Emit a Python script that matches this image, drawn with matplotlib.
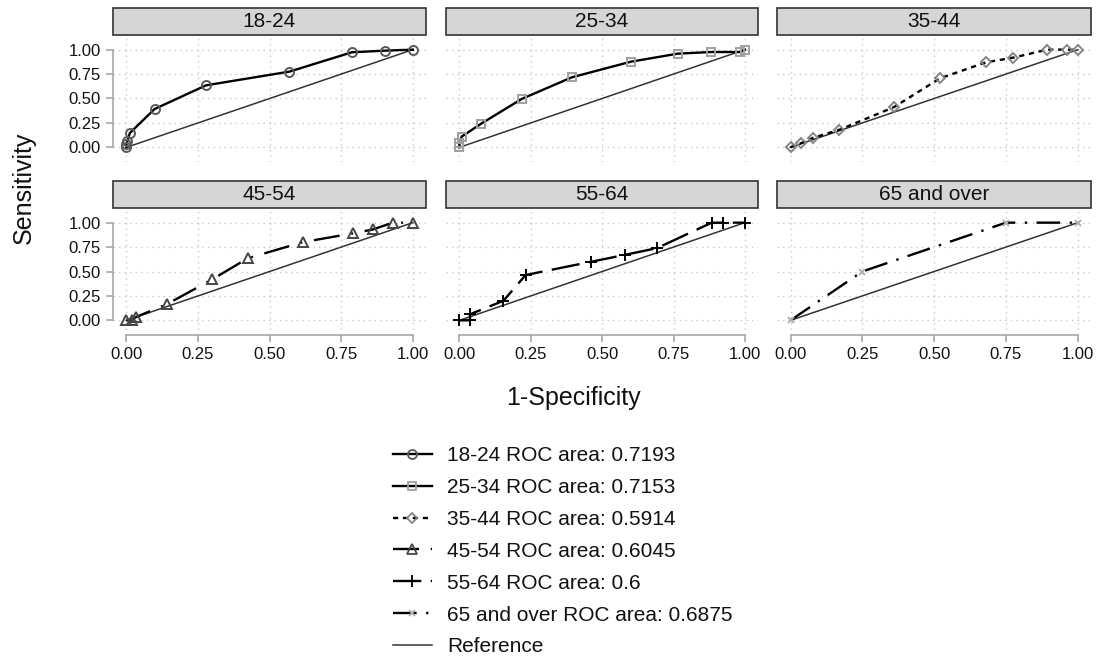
import matplotlib
matplotlib.use("Agg")
import matplotlib.pyplot as plt
from matplotlib.patches import Rectangle
from matplotlib.lines import Line2D

plt.rcParams['font.family'] = ['Liberation Sans', 'DejaVu Sans']

# ---------------- data ----------------
groups = ["18-24", "25-34", "35-44", "45-54", "55-64", "65 and over"]
roc_areas = ["0.7193", "0.7153", "0.5914", "0.6045", "0.6", "0.6875"]

fpr_18_24 = [0.0, 0.0, 0.003, 0.012, 0.098, 0.278, 0.569, 0.787, 0.903, 1.0]
tpr_18_24 = [0.0, 0.03, 0.06, 0.147, 0.392, 0.635, 0.775, 0.973, 0.990, 1.0]

fpr_25_34 = [0.0, 0.0, 0.008, 0.075, 0.218, 0.394, 0.601, 0.765, 0.882, 0.984, 1.0]
tpr_25_34 = [0.0, 0.04, 0.11, 0.24, 0.495, 0.717, 0.877, 0.959, 0.976, 0.976, 1.0]

fpr_35_44 = [0.0, 0.038, 0.077, 0.17, 0.359, 0.52, 0.68, 0.775, 0.893, 0.963, 1.0]
tpr_35_44 = [0.0, 0.044, 0.096, 0.18, 0.41, 0.706, 0.87, 0.918, 1.0, 1.0, 1.0]

fpr_45_54 = [0.0, 0.019, 0.034, 0.141, 0.30, 0.424, 0.615, 0.79, 0.86, 0.93, 1.0]
tpr_45_54 = [0.0, 0.0, 0.035, 0.165, 0.42, 0.636, 0.80, 0.89, 0.93, 1.0, 1.0]

fpr_55_64 = [0.0, 0.037, 0.037, 0.154, 0.232, 0.462, 0.579, 0.692, 0.884, 0.922, 1.0]
tpr_55_64 = [0.0, 0.0, 0.062, 0.20, 0.464, 0.60, 0.67, 0.739, 1.0, 1.0, 1.0]

fpr_65_over = [0.0, 0.25, 0.75, 1.0]
tpr_65_over = [0.0, 0.5, 1.0, 1.0]

ref_x = [0.0, 1.0]
ref_y = [0.0, 1.0]

tick_values = [0.0, 0.25, 0.5, 0.75, 1.0]
tick_labels = ["0.00", "0.25", "0.50", "0.75", "1.00"]

fprs = [fpr_18_24, fpr_25_34, fpr_35_44, fpr_45_54, fpr_55_64, fpr_65_over]
tprs = [tpr_18_24, tpr_25_34, tpr_35_44, tpr_45_54, tpr_55_64, tpr_65_over]

# ---------------- styles ----------------
styles = [
    dict(marker='o', ms=6.5, mec='#5a5a5a', ls='-', dashes=None),
    dict(marker='s', ms=6.0, mec='#a0a0a0', ls='-', dashes=None),
    dict(marker='D', ms=5.6, mec='#858585', ls='--', dashes=(2.2, 2.0)),
    dict(marker='^', ms=7.0, mec='#454545', ls='--', dashes=(11, 5, 0.8, 5)),
    dict(marker='+', ms=8.5, mec='#000000', ls='--', dashes=(12, 4)),
    dict(marker='x', ms=3.8, mec='#b0b0b0', ls='--', dashes=(10, 4, 1, 4)),
]

W, H = 1098, 661
fig = plt.figure(figsize=(W / 100, H / 100), dpi=100)

def rect(l, t, r, b):
    return [l / W, 1 - b / H, (r - l) / W, (b - t) / H]

cols = [(113, 426), (446, 758), (777, 1091)]
rows = [(35, 162), (208, 335)]
strip_h = 27

grid_kw = dict(color='#c8c8c8', linestyle=(0, (1, 3)), linewidth=1.0)

for i in range(6):
    r, c = divmod(i, 3)
    l, rr = cols[c]
    t, b = rows[r]
    ax = fig.add_axes(rect(l, t, rr, b))
    ax.set_xlim(-0.047, 1.046)
    ax.set_ylim(-0.15, 1.15)
    ax.set_xticks(tick_values)
    ax.set_yticks(tick_values)
    ax.grid(True, **grid_kw)
    ax.set_axisbelow(True)
    for s in ['top', 'right']:
        ax.spines[s].set_visible(False)
    ax.spines['left'].set_color('#a8a8a8')
    ax.spines['bottom'].set_color('#a8a8a8')
    ax.spines['left'].set_linewidth(1.2)
    ax.spines['bottom'].set_linewidth(1.2)
    ax.spines['left'].set_bounds(0, 1)
    ax.spines['bottom'].set_bounds(0, 1)
    ax.tick_params(axis='both', colors='#a8a8a8', length=5, width=1.2,
                   labelcolor='#111111', labelsize=12, pad=4)
    if c == 0:
        ax.set_yticklabels(tick_labels)
    else:
        ax.spines['left'].set_visible(False)
        ax.tick_params(axis='y', length=0, labelleft=False)
    if r == 1:
        ax.set_xticklabels(tick_labels)
    else:
        ax.spines['bottom'].set_visible(False)
        ax.tick_params(axis='x', length=0, labelbottom=False)

    # reference line
    ax.plot(ref_x, ref_y, color='#333333', lw=1.1, zorder=2)
    st = styles[i]
    line, = ax.plot(fprs[i], tprs[i], color='black', lw=1.7,
                    linestyle=st['ls'], marker=st['marker'], ms=st['ms'],
                    mfc='none', mec=st['mec'], mew=1.4, zorder=3)
    if st['dashes'] is not None:
        line.set_dashes(st['dashes'])

    # strip
    sh = strip_h / (b - t)
    ax.add_patch(Rectangle((0, 1), 1, sh, transform=ax.transAxes,
                           facecolor='#d6d6d6', edgecolor='#333333',
                           lw=1.2, clip_on=False, zorder=5))
    ax.text(0.5, 1 + sh / 2, groups[i], transform=ax.transAxes,
            ha='center', va='center', fontsize=15, color='#111111', zorder=6)

# axis titles
fig.text(24 / W, 1 - 188 / H, "Sensitivity", rotation=90, ha='center',
         va='center', fontsize=18, color='#111111')
fig.text(573 / W, 1 - 398 / H, "1-Specificity", ha='center', va='center',
         fontsize=18, color='#111111')

# legend
handles = []
labels = []
for i in range(6):
    st = styles[i]
    h = Line2D([], [], color='black', lw=1.7, linestyle=st['ls'],
               marker=st['marker'], ms=st['ms'], mfc='none',
               mec=st['mec'], mew=1.3)
    if st['dashes'] is not None:
        h.set_dashes(st['dashes'])
    handles.append(h)
    labels.append(f"{groups[i]} ROC area: {roc_areas[i]}")
handles.append(Line2D([], [], color='#333333', lw=1.1))
labels.append("Reference")

fig.legend(handles, labels, loc='upper left',
           bbox_to_anchor=(393 / W, 1 - 446 / H), frameon=False,
           fontsize=15, handlelength=1.87, handletextpad=0.72,
           labelspacing=0.62, borderpad=0, borderaxespad=0,
           numpoints=1, labelcolor='#111111')

fig.savefig("out.png", dpi=100, facecolor='white')
